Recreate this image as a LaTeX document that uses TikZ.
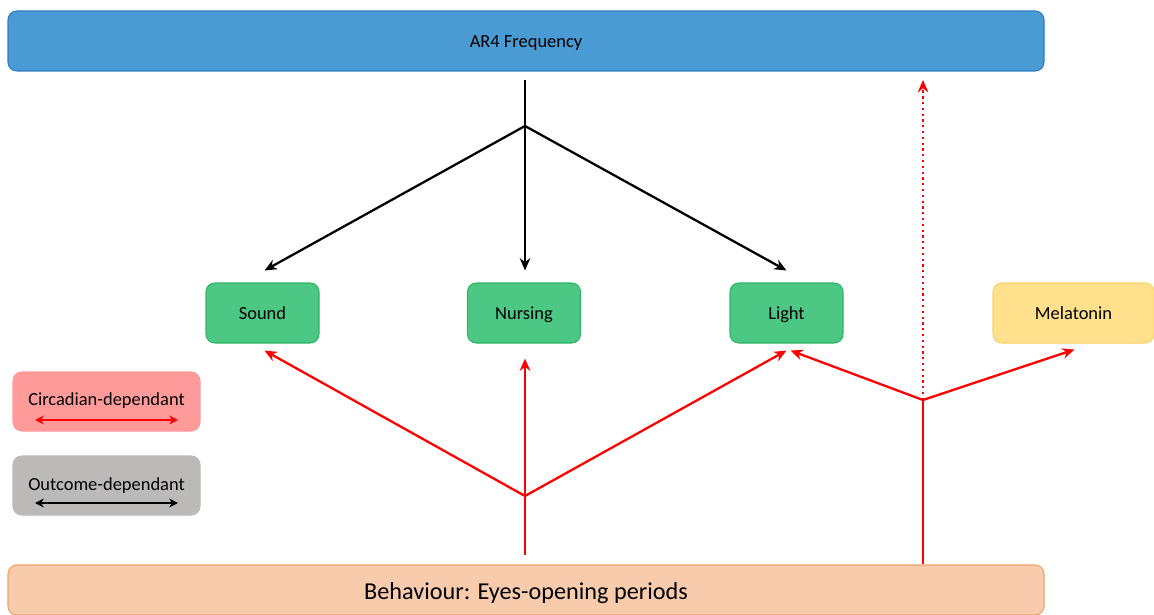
\documentclass[tikz,border=0pt]{standalone}
\usepackage{fontspec}
\setmainfont{Carlito}
\usepackage{tikz}
\usetikzlibrary{arrows.meta,positioning}
\definecolor{arBlue}{HTML}{4A9BD3}
\definecolor{arBlueEdge}{HTML}{2E7DC0}
\definecolor{arGreen}{HTML}{4CC784}
\definecolor{arGreenEdge}{HTML}{2FB565}
\definecolor{arYellow}{HTML}{FFE08C}
\definecolor{arYellowEdge}{HTML}{F9D36A}
\definecolor{arPeach}{HTML}{F8CBAD}
\definecolor{arPeachEdge}{HTML}{F2A06A}
\definecolor{arPink}{HTML}{FF9A9A}
\definecolor{arGrey}{HTML}{BCB9B9}
\definecolor{arRed}{HTML}{FF0000}

\begin{document}
\begin{tikzpicture}[x=0.02cm,y=-0.02cm,font=\fontsize{10.5}{12}\selectfont,>={Stealth[length=7pt,width=6pt]}]
  \useasboundingbox (0,0) rectangle (1154,615);
  \tikzset{
    box/.style={rectangle,rounded corners=5pt,line width=0.6pt,inner sep=2pt,minimum height=60*0.02cm,
      text height=1.9ex,text depth=0.3ex},
    factor/.style={box,fill=arGreen,draw=arGreenEdge,minimum width=113*0.02cm},
    blackarr/.style={->,line width=1.3pt,black},
    redarr/.style={->,line width=1.3pt,arRed},
  }
  % top and bottom bars
  \node[box,fill=arBlue,draw=arBlueEdge,minimum width=1036*0.02cm] (freq) at (526,41) {AR4 Frequency};
  \node[box,fill=arPeach,draw=arPeachEdge,minimum width=1036*0.02cm,minimum height=50*0.02cm,
        text height=2.55ex,font=\fontsize{13.8}{15}\selectfont] (behav) at (526,590) {Behaviour: Eyes-opening periods};
  % factors
  \node[factor] (sound) at (262.5,313) {Sound};
  \node[factor] (nursing) at (524,313) {Nursing};
  \node[factor] (light) at (786.5,313) {Light};
  \node[box,fill=arYellow,draw=arYellowEdge,minimum width=161*0.02cm] (melat) at (1073.5,313) {Melatonin};
  % legend
  \node[box,fill=arPink,draw=arPink,minimum width=187*0.02cm,minimum height=59*0.02cm] (circ) at (106.5,401.5) {};
  \node[anchor=base] at ([yshift=-0.09cm]circ.center) {Circadian-dependant};
  \draw[<->,line width=1.1pt,arRed,>={Stealth[length=5pt,width=5pt]}] (35,420) -- (178,420);
  \node[box,fill=arGrey,draw=arGrey,minimum width=187*0.02cm,minimum height=59*0.02cm] (outc) at (106.5,485.5) {};
  \node[anchor=base] at ([yshift=-0.1cm]outc.center) {Outcome-dependant};
  \draw[<->,line width=1.1pt,black,>={Stealth[length=5pt,width=5pt]}] (35,503) -- (178,503);
  % junction points
  \coordinate (topstart) at (525,80);
  \coordinate (topjoin) at (525,126);
  \coordinate (midjoin) at (525,496);
  \coordinate (rightjoin) at (923,400);
  \coordinate (dotend) at (923,80);
  % outcome-dependant links
  \draw[line width=1.3pt] (topstart) -- (topjoin);
  \draw[blackarr] (topjoin) -- ([xshift=2*0.02cm,yshift=12*0.02cm]sound.north);
  \draw[blackarr] (topjoin) -- ([yshift=12*0.02cm]nursing.north -| topjoin);
  \draw[blackarr] (topjoin) -- ([yshift=12*0.02cm]light.north);
  % circadian-dependant links
  \draw[line width=1.3pt,arRed] (behav.north -| midjoin) ++(0,-9) -- (midjoin);
  \draw[redarr] (midjoin) -- ([xshift=2*0.02cm,yshift=-7*0.02cm]sound.south);
  \draw[redarr] (midjoin) -- ([yshift=-15*0.02cm]nursing.south -| midjoin);
  \draw[redarr] (midjoin) -- ([yshift=-7*0.02cm]light.south);
  \draw[line width=1.3pt,arRed] (behav.north -| rightjoin) -- (rightjoin);
  \draw[redarr] (rightjoin) -- ([xshift=4*0.02cm,yshift=-7*0.02cm]light.south);
  \draw[redarr] (rightjoin) -- ([xshift=1*0.02cm,yshift=-6*0.02cm]melat.south);
  \draw[redarr,dotted] (rightjoin) -- (dotend);
\end{tikzpicture}
\end{document}
